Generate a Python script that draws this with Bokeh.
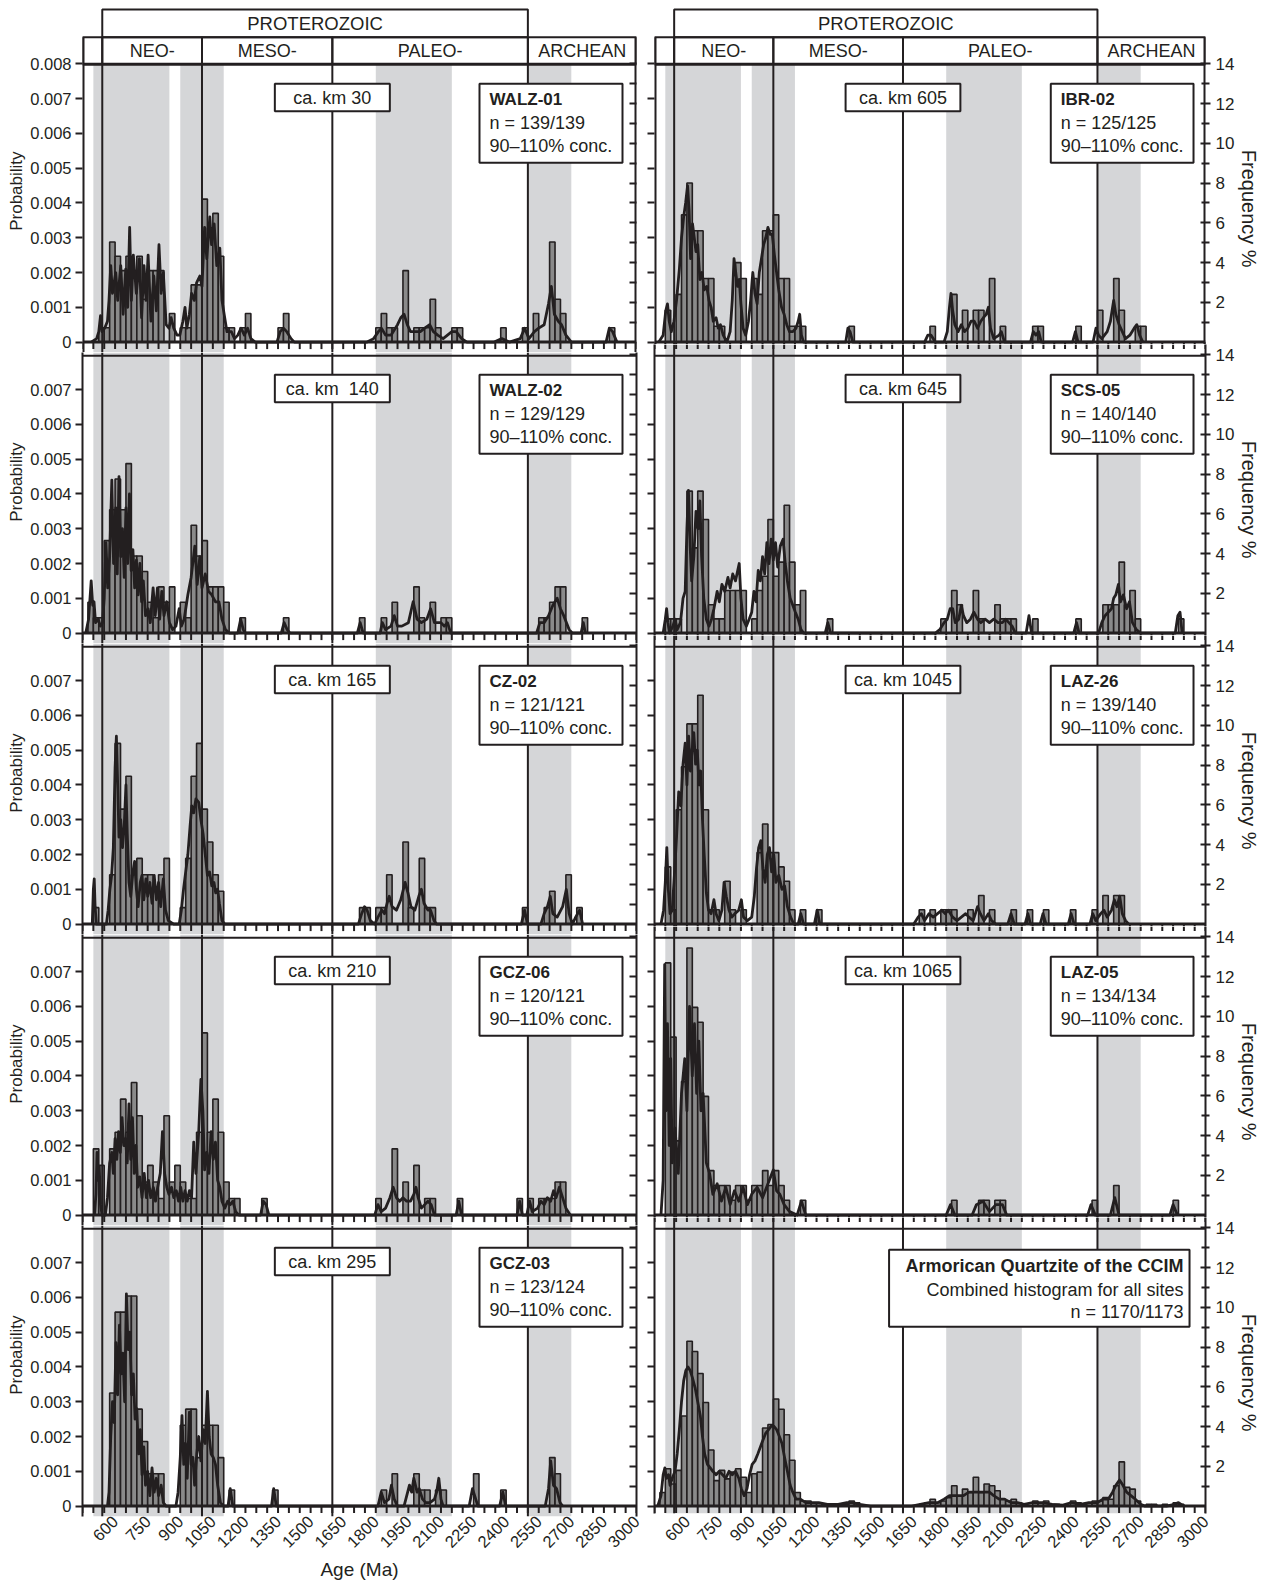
import math
from bokeh.plotting import figure
from bokeh.models import Range1d, LinearAxis, FixedTicker, BoxAnnotation, Label, Span, Title
from bokeh.layouts import column, row
from bokeh.embed import file_html
from bokeh.resources import INLINE
from bokeh.core.properties import value

# ---------------- axes / categories ----------------
AGE_MIN, AGE_MAX = 450, 3000
BIN = 25
ERA_BOUNDS = [541, 1000, 1600, 2500]
ERA_NAMES = ["NEO-", "MESO-", "PALEO-", "ARCHEAN"]
EON_NAME = "PROTEROZOIC"
BAND_START = [500, 900, 1800, 2500]
BAND_END = [850, 1100, 2150, 2700]
X_LABEL_TICKS = list(range(600, 3001, 150))
X_MINOR_TICKS = list(range(450, 3001, 50))
PROB_TICKS = [0, 0.001, 0.002, 0.003, 0.004, 0.005, 0.006, 0.007, 0.008]
PROB_LABELS = ["0", "0.001", "0.002", "0.003", "0.004", "0.005", "0.006", "0.007", "0.008"]
FREQ_MAJOR = [2, 4, 6, 8, 10, 12, 14]
FREQ_MINOR = [1, 3, 5, 7, 9, 11, 13]

# ---------------- data: histograms (bin start, grain count) and PDP curves (age, probability) -------------
WALZ01_HIST = [(525,1),(550,1),(575,7),(600,6),(625,5),(650,6),(675,5),(700,6),(725,3),(750,5),(775,5),(800,5),
               (850,2),(900,1),(925,1),(950,4),(975,4),(1000,10),(1025,8),(1050,9),(1075,6),(1100,1),(1125,1),
               (1175,1),(1200,2),(1350,1),(1375,2),(1800,1),(1825,2),(1850,1),(1875,1),(1925,5),(1975,1),(2000,1),
               (2025,1),(2050,3),(2075,1),(2150,1),(2175,1),(2375,1),(2475,1),(2525,2),(2600,7),(2625,3),(2650,2),(2875,1)]
WALZ01_PDP = [(490,0),(515,0.0001),(525,0.0003),(533,0.00076),(540,0.0003),(552,0.0004),(565,0.0006),(572,0.0012),
              (580,0.0022),(588,0.0014),(603,0.0020),(612,0.0012),(626,0.0022),(637,0.0008),(649,0.0021),(658,0.0010),
              (667,0.0033),(675,0.0012),(684,0.0025),(698,0.0014),(712,0.0024),(722,0.0007),(733,0.0022),(742,0.0012),
              (752,0.0025),(765,0.0006),(778,0.0019),(790,0.0009),(802,0.0028),(812,0.0014),(822,0.0020),(835,0.0005),
              (848,0.0004),(858,0.0007),(870,0.0004),(885,0.0002),(898,0.0002),(912,0.0006),(922,0.0010),(930,0.0004),
              (942,0.0008),(952,0.0014),(965,0.0012),(975,0.0017),(990,0.0019),(1000,0.0016),(1012,0.0033),(1022,0.0024),
              (1036,0.0036),(1044,0.0028),(1056,0.0034),(1068,0.0022),(1082,0.0027),(1092,0.0012),(1102,0.0008),
              (1115,0.0003),(1135,0.0003),(1150,0.0001),(1165,0.0002),(1180,0.0004),(1195,0.0002),(1210,0.0004),
              (1225,0.0001),(1245,0),(1345,0),(1360,0.0003),(1375,0.0004),(1390,0.0003),(1410,0.0001),(1425,0),
              (1760,0),(1790,0.0001),(1812,0.0003),(1826,0.0004),(1845,0.0002),(1870,0.0002),(1900,0.0005),
              (1915,0.0007),(1930,0.0008),(1945,0.0005),(1960,0.0003),(1985,0.0003),(2005,0.0003),(2025,0.0004),
              (2048,0.0005),(2065,0.0003),(2085,0.0002),(2110,0.0001),(2150,0.0003),(2170,0.0003),(2195,0.0001),
              (2220,0),(2345,0),(2380,0.0001),(2415,0),(2465,0.0001),(2485,0.0004),(2505,0.0001),(2530,0.0003),
              (2550,0.0004),(2575,0.0005),(2595,0.0011),(2608,0.0016),(2622,0.0008),(2640,0.0006),(2655,0.0005),
              (2675,0.0002),(2700,0),(2860,0),(2875,0.0004),(2890,0.0003),(2910,0)]

WALZ02_HIST = [(475,2),(500,1),(525,1),(550,6),(575,8),(600,10),(625,8),(650,11),(675,5),(700,5),(725,4),(750,2),
               (775,1),(800,3),(825,2),(850,3),(900,2),(925,1),(950,7),(975,5),(1000,6),(1025,3),(1050,3),(1075,3),
               (1100,2),(1175,1),(1375,1),(1725,1),(1825,1),(1875,2),(1975,3),(2000,1),(2050,2),(2100,1),(2125,1),
               (2550,1),(2575,1),(2600,2),(2625,3),(2650,3),(2750,1)]
WALZ02_PDP = [(465,0),(478,0.0004),(490,0.0015),(497,0.0008),(503,0.0009),(510,0.0003),(522,0.0004),(532,0.0002),
              (542,0.0003),(550,0.0010),(558,0.0026),(566,0.0013),(575,0.0022),(585,0.0044),(593,0.0020),(603,0.0036),
              (610,0.0017),(618,0.0045),(626,0.0022),(634,0.0030),(642,0.0016),(650,0.0036),(658,0.0020),(666,0.0040),
              (674,0.0018),(682,0.0024),(690,0.0013),(698,0.0021),(706,0.0011),(714,0.0020),(722,0.0009),(730,0.0015),
              (740,0.0005),(752,0.0007),(762,0.0003),(775,0.0013),(785,0.0005),(795,0.0013),(805,0.0004),(815,0.0012),
              (825,0.0005),(838,0.0009),(850,0.0003),(865,0.0001),(880,0.0002),(895,0.0007),(905,0.0002),(918,0.0004),
              (935,0.0011),(950,0.0016),(967,0.0025),(978,0.0014),(990,0.0022),(1000,0.0013),(1015,0.0017),(1030,0.0012),
              (1045,0.0011),(1062,0.0009),(1078,0.0009),(1092,0.0004),(1108,0.0001),(1125,0),(1165,0),(1178,0.0004),
              (1190,0.0001),(1200,0),(1365,0),(1378,0.0003),(1392,0.0001),(1405,0),(1715,0),(1728,0.0003),(1742,0),
              (1820,0),(1830,0.0003),(1845,0.0001),(1870,0.0002),(1885,0.0005),(1900,0.0002),(1920,0.0002),(1950,0.0003),
              (1972,0.0009),(1990,0.0004),(2010,0.0003),(2035,0.0004),(2052,0.0007),(2070,0.0003),(2100,0.0003),
              (2115,0.0002),(2130,0.0003),(2145,0),(2540,0),(2555,0.0003),(2575,0.0003),(2595,0.0005),(2615,0.0008),
              (2635,0.0010),(2650,0.0007),(2665,0.0005),(2690,0.0001),(2705,0),(2745,0),(2755,0.0003),(2765,0)]

CZ02_HIST = [(500,1),(575,3),(600,11),(625,7),(650,9),(675,3),(700,4),(725,3),(750,3),(775,2),(800,3),(825,4),
             (900,1),(925,4),(950,9),(975,11),(1000,7),(1025,5),(1050,3),(1075,2),(1725,1),(1750,1),(1800,1),
             (1825,1),(1850,3),(1925,5),(1950,1),(2000,4),(2025,1),(2050,1),(2475,1),(2575,1),(2600,2),(2675,3),(2725,1)]
CZ02_PDP = [(495,0),(500,0.0010),(504,0.0013),(508,0.0005),(514,0),(560,0),(568,0.0004),(576,0.0010),(584,0.0014),
            (592,0.0022),(600,0.0045),(606,0.0054),(612,0.0040),(618,0.0025),(626,0.0030),(634,0.0022),(642,0.0028),
            (650,0.0040),(656,0.0026),(664,0.0012),(672,0.0008),(682,0.0015),(690,0.0018),(698,0.0010),(706,0.0005),
            (716,0.0012),(724,0.0014),(732,0.0007),(742,0.0013),(750,0.0008),(760,0.0012),(770,0.0006),(780,0.0014),
            (790,0.0007),(800,0.0012),(810,0.0005),(822,0.0013),(832,0.0004),(845,0.0001),(870,0),(895,0),
            (905,0.0004),(915,0.0010),(925,0.0015),(935,0.0020),(945,0.0028),(953,0.0034),(962,0.0032),(972,0.0036),
            (985,0.0035),(995,0.0030),(1005,0.0026),(1015,0.0020),(1025,0.0014),(1035,0.0015),(1045,0.0011),
            (1055,0.0012),(1063,0.0009),(1072,0.0010),(1080,0.0006),(1092,0.0001),(1105,0),(1720,0),(1735,0.0003),
            (1748,0.0005),(1760,0.0004),(1775,0.0001),(1795,0),(1810,0.0002),(1828,0.0004),(1840,0.0003),(1852,0.0006),
            (1862,0.0008),(1875,0.0005),(1895,0.0004),(1915,0.0007),(1935,0.0012),(1948,0.0009),(1962,0.0005),
            (1980,0.0004),(1998,0.0008),(2010,0.0010),(2022,0.0006),(2040,0.0004),(2052,0.0004),(2068,0.0001),
            (2080,0),(2470,0),(2485,0.0004),(2498,0),(2560,0),(2575,0.0003),(2590,0.0005),(2603,0.0008),(2615,0.0003),
            (2635,0.0002),(2660,0.0005),(2677,0.0010),(2690,0.0003),(2705,0),(2720,0.0002),(2738,0.0004),(2752,0)]

GCZ06_HIST = [(500,4),(525,3),(575,4),(600,5),(625,7),(650,5),(675,8),(700,6),(725,2),(750,3),(775,2),(800,1),
              (825,6),(850,2),(875,3),(900,2),(925,1),(950,1),(975,5),(1000,11),(1025,5),(1050,7),(1075,5),(1100,2),
              (1125,1),(1150,1),(1275,1),(1800,1),(1875,4),(1925,2),(1975,3),(2025,1),(2050,1),(2175,1),(2450,1),
              (2500,1),(2550,1),(2575,1),(2600,1),(2625,2),(2650,2)]
GCZ06_PDP = [(505,0),(512,0.0006),(517,0.0018),(522,0.0010),(527,0.0014),(533,0.0003),(540,0),(555,0),(565,0.0005),
             (575,0.0015),(585,0.0018),(592,0.0012),(600,0.0022),(608,0.0016),(616,0.0024),(624,0.0018),(632,0.0028),
             (640,0.0020),(648,0.0022),(656,0.0015),(664,0.0032),(672,0.0016),(680,0.0028),(688,0.0012),(696,0.0020),
             (704,0.0008),(714,0.0011),(724,0.0005),(734,0.0012),(744,0.0005),(754,0.0010),(764,0.0005),(776,0.0008),
             (786,0.0004),(796,0.0008),(808,0.0012),(818,0.0024),(828,0.0012),(838,0.0008),(848,0.0006),(860,0.0008),
             (870,0.0005),(882,0.0007),(892,0.0004),(902,0.0008),(912,0.0004),(922,0.0007),(932,0.0004),(942,0.0007),
             (952,0.0005),(962,0.0021),(972,0.0012),(985,0.0024),(995,0.0039),(1004,0.0030),(1012,0.0013),
             (1022,0.0018),(1032,0.0012),(1042,0.0024),(1052,0.0016),(1062,0.0021),(1072,0.0010),(1082,0.0008),
             (1092,0.0004),(1105,0.0002),(1118,0.0004),(1130,0.0003),(1142,0.0004),(1155,0.0001),(1170,0),(1270,0),
             (1282,0.0004),(1295,0.0003),(1308,0),(1795,0),(1810,0.0003),(1825,0.0001),(1845,0.0002),(1865,0.0005),
             (1880,0.0008),(1895,0.0005),(1910,0.0004),(1925,0.0005),(1942,0.0004),(1960,0.0004),(1975,0.0006),
             (1985,0.0008),(1995,0.0005),(2010,0.0002),(2025,0.0003),(2040,0.0004),(2055,0.0003),(2070,0),(2170,0),
             (2182,0.0004),(2195,0),(2450,0),(2462,0.0004),(2475,0),(2495,0),(2508,0.0004),(2520,0.0001),
             (2545,0.0002),(2560,0.0004),(2575,0.0003),(2590,0.0005),(2605,0.0004),(2618,0.0007),(2630,0.0005),
             (2645,0.0008),(2660,0.0005),(2675,0.0002),(2695,0)]

GCZ03_HIST = [(575,7),(600,12),(625,12),(650,13),(675,13),(700,6),(725,4),(750,2),(775,2),(800,2),(900,5),(925,6),
              (950,6),(975,3),(1000,5),(1025,5),(1050,5),(1075,3),(1125,1),(1325,1),(1825,1),(1875,2),(1975,2),
              (2000,1),(2025,1),(2075,1),(2100,1),(2250,2),(2375,1),(2600,3),(2625,2)]
GCZ03_PDP = [(565,0),(572,0.0004),(580,0.0020),(588,0.0030),(596,0.0024),(604,0.0047),(612,0.0032),(620,0.0052),
             (628,0.0038),(636,0.0044),(644,0.0030),(652,0.0061),(660,0.0045),(668,0.0050),(676,0.0032),(684,0.0038),
             (692,0.0025),(700,0.0028),(708,0.0015),(716,0.0022),(724,0.0009),(732,0.0017),(740,0.0006),(750,0.0010),
             (760,0.0003),(770,0.0011),(780,0.0004),(790,0.0008),(800,0.0003),(812,0.0006),(822,0.0001),(835,0),
             (880,0),(890,0.0004),(900,0.0014),(908,0.0026),(916,0.0012),(924,0.0018),(932,0.0008),(942,0.0027),
             (950,0.0012),(958,0.0014),(966,0.0006),(976,0.0015),(985,0.0020),(995,0.0013),(1005,0.0022),
             (1015,0.0018),(1025,0.0033),(1033,0.0020),(1042,0.0015),(1052,0.0014),(1062,0.0012),(1072,0.0006),
             (1085,0.0001),(1100,0),(1120,0),(1130,0.0005),(1142,0),(1320,0),(1330,0.0005),(1342,0),(1810,0),
             (1825,0.0004),(1840,0.0001),(1860,0.0002),(1872,0.0006),(1885,0.0002),(1900,0),(1930,0),(1955,0.0006),
             (1965,0.0004),(1975,0.0008),(1990,0.0004),(2000,0.0005),(2015,0.0002),(2030,0.0001),(2050,0.0001),
             (2070,0.0002),(2080,0.0004),(2090,0.0008),(2100,0.0002),(2110,0),(2230,0),(2245,0.0005),(2260,0.0002),
             (2270,0),(2370,0),(2385,0.0004),(2398,0),(2580,0),(2595,0.0005),(2605,0.0013),(2618,0.0006),
             (2632,0.0005),(2648,0.0001),(2660,0)]

IBR02_HIST = [(500,2),(550,3),(575,8),(600,10),(625,7),(650,7),(675,4),(700,4),(725,1),(750,1),(825,5),(850,4),
              (900,4),(925,3),(950,7),(975,7),(1000,8),(1025,4),(1050,4),(1075,1),(1100,1),(1125,1),(1350,1),
              (1725,1),(1825,3),(1875,2),(1925,2),(1950,2),(2000,4),(2050,1),(2200,1),(2225,1),(2400,1),(2500,2),
              (2575,4),(2600,2),(2675,1),(2700,1)]
IBR02_PDP = [(470,0),(490,0.0002),(502,0.0009),(510,0.0011),(518,0.0006),(528,0.0003),(540,0.0006),(552,0.0012),
             (565,0.0021),(575,0.0030),(585,0.0036),(594,0.0040),(603,0.0045),(610,0.0038),(617,0.0024),(626,0.0034),
             (634,0.0030),(642,0.0026),(650,0.0028),(660,0.0018),(670,0.0020),(680,0.0015),(692,0.0016),(702,0.0012),
             (712,0.0010),(722,0.0006),(735,0.0007),(745,0.0004),(755,0.0005),(768,0.0002),(785,0),(800,0.0003),
             (810,0.0012),(818,0.0024),(826,0.0020),(834,0.0016),(842,0.0018),(850,0.0011),(860,0.0004),(872,0.0002),
             (885,0.0006),(895,0.0012),(905,0.0020),(915,0.0014),(925,0.0011),(935,0.0020),(945,0.0024),(955,0.0028),
             (965,0.0030),(975,0.0033),(985,0.0031),(995,0.0031),(1005,0.0025),(1015,0.0020),(1025,0.0015),
             (1038,0.0010),(1050,0.0008),(1062,0.0005),(1075,0.0003),(1090,0.0003),(1105,0.0004),(1115,0.0006),
             (1122,0.0008),(1130,0.0002),(1140,0),(1335,0),(1345,0.0004),(1355,0.0003),(1368,0),(1700,0),
             (1715,0.0002),(1730,0.0002),(1750,0),(1790,0),(1805,0.0003),(1815,0.0010),(1822,0.0014),(1830,0.0009),
             (1840,0.0005),(1855,0.0003),(1870,0.0005),(1885,0.0003),(1900,0.0004),(1915,0.0006),(1930,0.0006),
             (1945,0.0004),(1960,0.0006),(1972,0.0007),(1985,0.0008),(1995,0.0010),(2005,0.0004),(2020,0.0001),
             (2045,0.0002),(2055,0.0003),(2070,0),(2190,0),(2203,0.0003),(2215,0.0002),(2228,0.0003),(2240,0),
             (2385,0),(2398,0.0003),(2410,0),(2480,0),(2493,0.0004),(2505,0.0002),(2520,0.0001),(2545,0.0003),
             (2560,0.0006),(2575,0.0012),(2585,0.0008),(2600,0.0005),(2615,0.0003),(2630,0.0001),(2650,0.0002),
             (2670,0.0004),(2682,0.0005),(2695,0.0002),(2710,0)]

SCS05_HIST = [(500,1),(525,1),(550,1),(600,10),(625,6),(650,10),(675,8),(700,2),(725,1),(750,1),(775,3),(800,3),
              (825,3),(850,3),(900,1),(925,3),(950,4),(975,8),(1000,4),(1025,5),(1050,9),(1075,5),(1100,2),(1125,3),
              (1250,1),(1775,1),(1825,3),(1850,2),(1925,3),(1950,1),(2025,2),(2050,1),(2075,1),(2100,1),(2200,1),
              (2400,1),(2525,2),(2550,2),(2575,2),(2600,5),(2625,2),(2650,3),(2675,1),(2875,1)]
SCS05_PDP = [(490,0),(500,0.0004),(506,0.0007),(512,0.0003),(520,0),(535,0.0002),(545,0.0004),(555,0.0001),
             (570,0.0003),(582,0.0010),(592,0.0012),(600,0.0030),(607,0.0041),(615,0.0025),(622,0.0015),(632,0.0022),
             (642,0.0035),(652,0.0030),(660,0.0038),(668,0.0022),(678,0.0010),(690,0.0004),(702,0.0002),(714,0.0004),
             (725,0.0007),(740,0.0012),(750,0.0009),(762,0.0014),(775,0.0012),(790,0.0016),(800,0.0013),(812,0.0017),
             (825,0.0015),(835,0.0018),(842,0.0020),(850,0.0010),(860,0.0004),(875,0.0002),(888,0.0004),(900,0.0006),
             (910,0.0012),(920,0.0009),(930,0.0018),(940,0.0015),(950,0.0022),(960,0.0017),(970,0.0026),(980,0.0020),
             (990,0.0027),(1000,0.0021),(1010,0.0026),(1020,0.0019),(1032,0.0025),(1045,0.0027),(1055,0.0020),
             (1065,0.0015),(1078,0.0010),(1090,0.0008),(1102,0.0006),(1115,0.0004),(1128,0.0001),(1140,0),(1240,0),
             (1252,0.0003),(1265,0),(1750,0),(1770,0.0001),(1790,0.0003),(1805,0.0004),(1818,0.0007),(1830,0.0007),
             (1842,0.0003),(1858,0.0004),(1870,0.0008),(1880,0.0005),(1895,0.0003),(1912,0.0004),(1928,0.0006),
             (1945,0.0004),(1960,0.0003),(1980,0.0004),(2000,0.0003),(2020,0.0004),(2040,0.0003),(2060,0.0003),
             (2075,0.0004),(2090,0.0003),(2105,0.0002),(2120,0),(2170,0),(2183,0.0005),(2195,0),(2390,0),
             (2403,0.0003),(2415,0),(2505,0),(2520,0.0003),(2535,0.0005),(2550,0.0006),(2565,0.0007),(2575,0.0010),
             (2585,0.0011),(2597,0.0014),(2607,0.0009),(2620,0.0011),(2635,0.0007),(2648,0.0009),(2662,0.0003),
             (2680,0.0001),(2700,0),(2860,0),(2872,0.0005),(2882,0.0006),(2892,0)]

LAZ26_HIST = [(500,4),(525,1),(550,8),(575,11),(600,14),(625,14),(650,16),(675,8),(700,1),(725,1),(775,3),(800,1),
              (850,1),(925,5),(950,7),(975,5),(1000,5),(1025,4),(1050,3),(1075,1),(1125,1),(1200,1),(1675,1),
              (1725,1),(1775,1),(1800,1),(1825,1),(1900,1),(1950,2),(2000,1),(2100,1),(2175,1),(2250,1),(2375,1),
              (2475,1),(2525,2),(2575,2),(2600,2)]
LAZ26_PDP = [(480,0),(492,0.0004),(500,0.0012),(507,0.0022),(514,0.0010),(522,0.0003),(532,0.0004),(542,0.0014),
             (552,0.0025),(562,0.0038),(572,0.0034),(582,0.0046),(592,0.0052),(600,0.0040),(608,0.0054),(616,0.0044),
             (624,0.0050),(632,0.0055),(640,0.0046),(648,0.0050),(656,0.0040),(664,0.0044),(672,0.0030),(680,0.0020),
             (690,0.0009),(700,0.0004),(712,0.0003),(725,0.0007),(735,0.0003),(748,0.0001),(762,0.0004),(772,0.0012),
             (782,0.0008),(795,0.0004),(808,0.0002),(822,0.0003),(840,0.0004),(852,0.0007),(862,0.0002),(880,0.0001),
             (900,0.0002),(912,0.0008),(922,0.0016),(932,0.0022),(942,0.0024),(952,0.0016),(962,0.0012),(972,0.0020),
             (982,0.0022),(992,0.0015),(1002,0.0020),(1012,0.0012),(1025,0.0014),(1040,0.0010),(1052,0.0011),
             (1065,0.0005),(1080,0.0002),(1095,0),(1115,0),(1127,0.0003),(1140,0),(1190,0),(1203,0.0004),(1215,0),
             (1650,0),(1670,0.0002),(1685,0.0003),(1700,0.0001),(1720,0.0003),(1740,0.0002),(1760,0.0003),
             (1780,0.0004),(1795,0.0003),(1810,0.0004),(1830,0.0002),(1850,0.0001),(1870,0.0002),(1890,0.0003),
             (1905,0.0002),(1925,0.0001),(1945,0.0005),(1958,0.0003),(1975,0.0001),(1995,0.0003),(2010,0.0001),
             (2030,0),(2085,0),(2100,0.0003),(2115,0),(2165,0),(2178,0.0003),(2190,0),(2235,0),(2248,0.0003),
             (2262,0),(2365,0),(2378,0.0003),(2392,0),(2465,0),(2478,0.0003),(2492,0.0001),(2515,0.0003),
             (2530,0.0004),(2545,0.0002),(2565,0.0004),(2578,0.0007),(2590,0.0005),(2603,0.0008),(2615,0.0003),
             (2630,0.0001),(2645,0)]

LAZ05_HIST = [(500,17),(525,12),(550,5),(575,9),(600,18),(625,14),(650,13),(675,8),(700,3),(725,2),(750,2),(775,2),
              (800,1),(825,2),(850,2),(875,1),(900,2),(925,2),(950,3),(975,2),(1000,3),(1025,2),(1050,1),(1125,1),
              (1825,1),(1950,1),(1975,1),(2025,1),(2050,1),(2475,1),(2575,2),(2850,1)]
LAZ05_PDP = [(480,0),(490,0.0010),(497,0.0072),(503,0.0030),(510,0.0055),(518,0.0020),(525,0.0045),(532,0.0015),
             (545,0.0025),(560,0.0012),(575,0.0035),(590,0.0045),(600,0.0030),(612,0.0060),(625,0.0040),(635,0.0055),
             (645,0.0035),(655,0.0050),(665,0.0030),(675,0.0035),(690,0.0015),(705,0.0012),(720,0.0006),(740,0.0009),
             (760,0.0004),(780,0.0008),(800,0.0003),(820,0.0007),(840,0.0004),(860,0.0008),(880,0.0003),(900,0.0006),
             (925,0.0008),(950,0.0005),(975,0.0009),(1000,0.0013),(1015,0.0007),(1030,0.0006),(1050,0.0003),
             (1075,0.0001),(1110,0),(1130,0.0004),(1150,0),(1800,0),(1820,0.0003),(1840,0),(1920,0),(1940,0.0003),
             (1970,0.0004),(2000,0.0001),(2030,0.0003),(2060,0.0003),(2080,0),(2455,0),(2470,0.0003),(2490,0),
             (2560,0),(2580,0.0005),(2600,0),(2835,0),(2850,0.0003),(2870,0)]

ALL_HIST = [(475,8),(500,22),(525,13),(550,21),(575,53),(600,97),(625,91),(650,78),(675,61),(700,33),(725,15),
            (750,21),(775,16),(800,20),(825,22),(850,17),(875,8),(900,19),(925,20),(950,46),(975,48),(1000,63),
            (1025,57),(1050,42),(1075,27),(1100,8),(1125,3),(1150,3),(1175,2),(1200,2),(1225,1),(1250,1),(1300,1),
            (1325,1),(1350,3),(1375,2),(1675,1),(1700,2),(1725,4),(1750,2),(1775,3),(1800,5),(1825,12),(1850,6),
            (1875,10),(1900,8),(1925,17),(1950,8),(1975,13),(2000,12),(2025,9),(2050,4),(2075,3),(2100,4),(2125,2),
            (2150,1),(2200,3),(2225,2),(2250,3),(2275,1),(2300,1),(2375,3),(2400,2),(2425,1),(2450,2),(2475,3),
            (2500,3),(2525,5),(2550,4),(2575,12),(2600,26),(2625,11),(2650,10),(2675,3),(2725,1),(2750,1),(2800,1),
            (2850,2),(2875,1)]
ALL_PDP = [(465,0),(480,0.0003),(490,0.0009),(498,0.0011),(505,0.0008),(515,0.0009),(522,0.0006),(532,0.0008),
           (545,0.0010),(555,0.0015),(565,0.0022),(575,0.0030),(585,0.0036),(595,0.0039),(605,0.0040),(615,0.0039),
           (625,0.0037),(638,0.0034),(650,0.0030),(662,0.0026),(672,0.0020),(682,0.0015),(695,0.0012),(708,0.0011),
           (720,0.0010),(735,0.0009),(750,0.0010),(765,0.0009),(780,0.0008),(795,0.0010),(810,0.0009),(825,0.0010),
           (840,0.0008),(852,0.0005),(865,0.0003),(878,0.0005),(890,0.0009),(902,0.0012),(915,0.0013),(928,0.0015),
           (940,0.0017),(952,0.0019),(965,0.0021),(978,0.0022),(990,0.0023),(1002,0.0023),(1015,0.0022),
           (1028,0.0020),(1040,0.0018),(1052,0.0014),(1065,0.0010),(1078,0.0006),(1090,0.0004),(1105,0.0002),
           (1125,0.0002),(1150,0.0001),(1180,0.0001),(1210,0.0001),(1250,0.00005),(1300,0.00005),(1340,0.0001),
           (1365,0.0001),(1400,0.00005),(1450,0),(1640,0),(1680,0.00005),(1720,0.0001),(1760,0.0001),
           (1790,0.0002),(1815,0.0003),(1840,0.0003),(1860,0.0003),(1880,0.0003),(1905,0.0004),(1930,0.0004),
           (1955,0.0004),(1980,0.0004),(2000,0.0004),(2020,0.0003),(2045,0.0002),(2070,0.0002),(2100,0.0001),
           (2130,0.0001),(2160,0.00005),(2200,0.0001),(2250,0.0001),(2290,0.00005),(2340,0.00003),(2380,0.0001),
           (2420,0.00005),(2460,0.0001),(2500,0.0001),(2525,0.0002),(2550,0.0002),(2570,0.0004),(2585,0.0006),
           (2602,0.00075),(2618,0.0006),(2635,0.0004),(2655,0.0003),(2675,0.0002),(2700,0.00005),(2720,0),
           (2820,0),(2855,0.00005),(2875,0.0001),(2900,0)]

# sample name, n text, km text, grains used, histogram, curve
LEFT_PANELS = [
    ("WALZ-01", "n = 139/139", "ca. km 30", 139, WALZ01_HIST, WALZ01_PDP),
    ("WALZ-02", "n = 129/129", "ca. km\u00a0 140", 129, WALZ02_HIST, WALZ02_PDP),
    ("CZ-02", "n = 121/121", "ca. km 165", 121, CZ02_HIST, CZ02_PDP),
    ("GCZ-06", "n = 120/121", "ca. km 210", 120, GCZ06_HIST, GCZ06_PDP),
    ("GCZ-03", "n = 123/124", "ca. km 295", 123, GCZ03_HIST, GCZ03_PDP),
]
RIGHT_PANELS = [
    ("IBR-02", "n = 125/125", "ca. km 605", 125, IBR02_HIST, IBR02_PDP),
    ("SCS-05", "n = 140/140", "ca. km 645", 140, SCS05_HIST, SCS05_PDP),
    ("LAZ-26", "n = 139/140", "ca. km 1045", 139, LAZ26_HIST, LAZ26_PDP),
    ("LAZ-05", "n = 134/134", "ca. km 1065", 134, LAZ05_HIST, LAZ05_PDP),
    ("Armorican Quartzite of the CCIM", "n = 1170/1173", None, 1170, ALL_HIST, ALL_PDP),
]
COMBINED_SUB = "Combined histogram for all sites"
CONC_TEXT = "90\u2013110% conc."

# ---------------- style / layout ----------------
FONT = "Liberation Sans"
INK = "#231f20"
BAND_COLOR = "#d5d6d8"
BAR_COLOR = "#8a8a8a"
PPU = 34787.0                      # pixels per probability unit
YMAX = 0.008
DATA_H = YMAX * PPU                # 278.3 px
ROW_PITCH = 291.0
FIRST_TOP = 63.3                   # px from page top to the 0.008 line of row 1
PAGE_H = 1584
BOUNDS = {0: [0, 352, 643, 934, 1225, 1516],   # figure boundaries of the left column (px)
          1: [0, 344, 635, 926, 1217, 1513]}   # and of the right column
FREQ_PER_PROB = 14 / 0.008
TICK_LEN = 7.0


def unzip(pairs):
    return [a for a, _ in pairs], [b for _, b in pairs]


def geom(col):
    return (645, 82, 9) if col == 0 else (616, 9, 55)


def yy(px):
    return YMAX - px / PPU


def make_panel(col, r, spec):
    name, ntext, km, n_used, hist, pdp = spec
    W, bl, br = geom(col)
    B = BOUNDS[col]
    bottom = r == 4
    first = r == 0
    ymax_abs = FIRST_TOP + ROW_PITCH * r
    top_px = ymax_abs - B[r]
    below_px = B[r + 1] - (ymax_abs + DATA_H)
    fh = B[r + 1] - B[r]
    extra = PAGE_H - B[5] if bottom else 0
    ymin = -below_px / PPU
    ytop = YMAX + top_px / PPU
    p = figure(width=W, height=fh + extra,
               x_range=Range1d(AGE_MIN, AGE_MAX), y_range=Range1d(ymin, ytop),
               x_axis_location=None, y_axis_location=None, toolbar_location=None,
               output_backend="svg", min_border=0, min_border_left=bl, min_border_right=br,
               min_border_top=0, min_border_bottom=extra, outline_line_color=None,
               background_fill_color="white", border_fill_color="white")
    p.grid.visible = False
    p.extra_y_ranges = {"freq": Range1d(ymin * FREQ_PER_PROB, ytop * FREQ_PER_PROB)}
    ppx = (W - bl - br) / (AGE_MAX - AGE_MIN)

    def xx(px):
        return AGE_MIN + px / ppx

    band_top = YMAX if first else ytop
    # shaded age bands
    p.quad(left=BAND_START, right=BAND_END, bottom=ymin, top=band_top, fill_color=BAND_COLOR, line_color=None)
    # histogram
    bins, counts = unzip(hist)
    freq = [c * 100.0 / n_used for c in counts]
    p.quad(left=bins, right=[b + BIN for b in bins], bottom=0, top=freq, y_range_name="freq",
           fill_color=BAR_COLOR, line_color=INK, line_width=1.6)
    # era boundaries
    nb = len(ERA_BOUNDS)
    p.segment(x0=ERA_BOUNDS, x1=ERA_BOUNDS, y0=[ymin] * nb, y1=[band_top] * nb, line_color=INK, line_width=2)
    # probability curve
    ages, probs = unzip(pdp)
    p.line(ages, probs, line_color=INK, line_width=2.8, line_join="round")
    # x axis at zero with ticks
    p.add_layout(Span(location=0, dimension="width", line_color=INK, line_width=3))
    k = len(X_MINOR_TICKS)
    p.segment(x0=X_MINOR_TICKS, x1=X_MINOR_TICKS, y0=[0] * k, y1=[-TICK_LEN / PPU] * k, line_color=INK,
              line_width=2)
    if not first:
        prev_below = B[r] - (ymax_abs - ROW_PITCH + DATA_H)
        stub = TICK_LEN - prev_below
        if stub > 0:   # remainder of the previous row's ticks
            p.segment(x0=X_MINOR_TICKS, x1=X_MINOR_TICKS, y0=[ytop] * k, y1=[ytop - stub / PPU] * k,
                      line_color=INK, line_width=2)
    # top frame
    p.add_layout(Span(location=YMAX - 1 / PPU, dimension="width", line_color=INK, line_width=2))

    if first:
        era_top = YMAX + 26.6 / PPU
        eon_top = YMAX + 54.4 / PPU
        lefts = [AGE_MIN] + ERA_BOUNDS
        rights = ERA_BOUNDS + [AGE_MAX]
        p.quad(left=lefts, right=rights, bottom=YMAX, top=era_top, fill_color=None, line_color=INK, line_width=2)
        p.quad(left=[ERA_BOUNDS[0]], right=[ERA_BOUNDS[-1]], bottom=era_top, top=eon_top, fill_color=None,
               line_color=INK, line_width=2)
        era_x = [(a + b) / 2 for a, b in zip(ERA_BOUNDS, ERA_BOUNDS[1:] + [AGE_MAX])]
        p.text(x=era_x, y=[(YMAX + era_top) / 2] * len(era_x), text=ERA_NAMES, text_align="center",
               text_baseline="middle", text_font=value(FONT), text_font_size="18px", text_color=INK)
        p.text(x=[(ERA_BOUNDS[0] + ERA_BOUNDS[-1]) / 2], y=[(era_top + eon_top) / 2], text=[EON_NAME],
               text_align="center", text_baseline="middle", text_font=value(FONT), text_font_size="18.5px",
               text_color=INK)
        p.segment(x0=[AGE_MIN, AGE_MAX], x1=[AGE_MIN, AGE_MAX], y0=[ymin, ymin], y1=[era_top, era_top],
                  line_color=INK, line_width=4)

    side_line = None if first else INK
    nt = 9 if first else 8
    labelled = col == 0
    la = LinearAxis(ticker=FixedTicker(ticks=PROB_TICKS[:nt], minor_ticks=[]),
                    major_label_overrides={t: s for t, s in zip(PROB_TICKS[:nt], PROB_LABELS[:nt])},
                    axis_line_color=side_line, axis_line_width=2, major_tick_line_color=INK,
                    major_tick_line_width=2, major_tick_in=0, major_tick_out=7, minor_tick_line_color=None,
                    major_label_text_font=FONT, major_label_text_color=INK if labelled else None,
                    major_label_text_font_size="16.5px" if labelled else "0px",
                    major_label_standoff=4 if labelled else 0)
    p.add_layout(la, "left")
    if labelled:
        start = DATA_H - 127 - 40 + below_px
        p.add_layout(Title(text="Probability", align="left", offset=start, standoff=3, text_font=FONT,
                           text_font_size="17px", text_font_style="normal", text_color=INK), "left")

    if col == 1:
        ra = LinearAxis(y_range_name="freq", ticker=FixedTicker(ticks=FREQ_MAJOR, minor_ticks=FREQ_MINOR),
                        axis_line_color=side_line, axis_line_width=2, major_tick_line_color=INK,
                        major_tick_line_width=2, minor_tick_line_color=INK, minor_tick_line_width=2,
                        major_tick_in=5, major_tick_out=5, minor_tick_in=4, minor_tick_out=4,
                        major_label_text_font=FONT, major_label_text_font_size="17px",
                        major_label_text_color=INK, major_label_standoff=5)
        p.add_layout(ra, "right")
        p.add_layout(Title(text="Frequency %", align="left", offset=top_px + 145 - 59, standoff=0,
                           text_font=FONT, text_font_size="20px", text_font_style="normal", text_color=INK),
                     "right")
    else:
        ra = LinearAxis(y_range_name="freq", ticker=FixedTicker(ticks=list(range(1, 15)), minor_ticks=[]),
                        axis_line_color=side_line, axis_line_width=2, major_tick_line_color=INK,
                        major_tick_line_width=2, major_tick_in=7, major_tick_out=0, minor_tick_line_color=None,
                        major_label_text_font_size="0px", major_label_text_color=None, major_label_standoff=0)
        p.add_layout(ra, "right")

    if bottom:
        ba = LinearAxis(ticker=FixedTicker(ticks=X_LABEL_TICKS, minor_ticks=[]), axis_line_color=None,
                        major_tick_line_color=None, major_tick_in=0, major_tick_out=0, minor_tick_line_color=None,
                        major_label_orientation=math.pi / 4, major_label_text_font=FONT,
                        major_label_text_font_size="16.5px", major_label_text_color=INK,
                        major_label_standoff=max(0, int(round(12 - below_px))),
                        axis_label="Age (Ma)" if col == 0 else None, axis_label_text_font=FONT,
                        axis_label_text_font_size="19px", axis_label_text_font_style="normal",
                        axis_label_text_color=INK, axis_label_standoff=3)
        p.add_layout(ba, "below")

    if km is not None:
        half = 57.5 / ppx
        p.add_layout(BoxAnnotation(left=1600 - half, right=1600 + half, top=yy(20), bottom=yy(47.5),
                                   fill_color="white", fill_alpha=1, line_color=INK, line_alpha=1, line_width=2))
        p.add_layout(Label(x=1600, y=yy(34), text=km, text_align="center", text_baseline="middle",
                           text_font=FONT, text_font_size="18px", text_color=INK))
        p.add_layout(BoxAnnotation(left=xx(397), right=xx(540), top=yy(20), bottom=yy(99), fill_color="white",
                                   fill_alpha=1, line_color=INK, line_alpha=1, line_width=2))
        for txt, off, bold in ((name, 35.5, True), (ntext, 59.5, False), (CONC_TEXT, 82, False)):
            p.add_layout(Label(x=xx(407), y=yy(off), text=txt, text_align="left", text_baseline="middle",
                               text_font=FONT, text_font_size="17px" if bold else "18px",
                               text_font_style="bold" if bold else "normal", text_color=INK))
    else:
        p.add_layout(BoxAnnotation(left=xx(235), right=xx(536), top=yy(22), bottom=yy(99), fill_color="white",
                                   fill_alpha=1, line_color=INK, line_alpha=1, line_width=2))
        for txt, off, bold in ((name, 38, True), (COMBINED_SUB, 62, False), (ntext, 84, False)):
            p.add_layout(Label(x=xx(530), y=yy(off), text=txt, text_align="right", text_baseline="middle",
                               text_font=FONT, text_font_size="18px",
                               text_font_style="bold" if bold else "normal", text_color=INK))
    return p


left_col = [make_panel(0, r, s) for r, s in enumerate(LEFT_PANELS)]
right_col = [make_panel(1, r, s) for r, s in enumerate(RIGHT_PANELS)]
layout = row(column(*left_col, spacing=0), column(*right_col, spacing=0), spacing=0)

with open("out.html", "w") as f:
    f.write(file_html(layout, INLINE))
